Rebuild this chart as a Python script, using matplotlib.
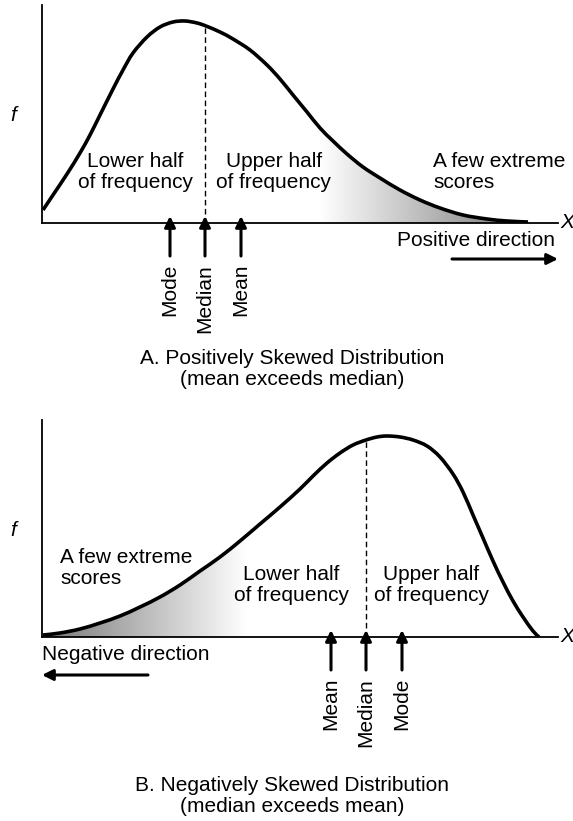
import matplotlib.pyplot as plt
import numpy as np
from matplotlib.colors import LinearSegmentedColormap
from matplotlib.path import Path
from matplotlib.patches import PathPatch

plt.rcParams['font.family'] = ['Liberation Sans', 'DejaVu Sans']

# A. positively skewed curve (score units along X, frequency f)
pos_x = [1, 11, 25, 38, 48, 58, 71, 81, 91, 105, 118, 131, 143, 155, 164, 178, 191,
         208, 225, 238, 251, 265, 278, 291, 305, 321, 338, 358, 378, 398, 421, 445, 465, 486]
pos_f = [13, 28, 49, 70, 88, 108, 134, 153, 170, 186, 196, 201, 202, 200, 197, 191, 184,
         173, 158, 144, 128, 111, 95, 82, 69, 56, 45, 33, 23, 15, 8, 4, 2, 1]
pos_marks = {'Mode': 128, 'Median': 163, 'Mean': 199}
pos_tail_start = 278

# B. negatively skewed curve
neg_x = [1, 18, 38, 58, 78, 98, 118, 138, 158, 178, 198, 218, 238, 258, 271, 285, 298,
         311, 324, 335, 345, 358, 371, 385, 398, 411, 421, 431, 441, 451, 461, 471, 481, 491, 497]
neg_f = [2, 4, 8, 14, 21, 30, 40, 52, 66, 80, 96, 113, 130, 148, 161, 174, 184,
         192, 197, 200, 201, 200, 197, 191, 180, 163, 145, 122, 99, 76, 55, 36, 20, 6, 0]
neg_marks = {'Mean': 289, 'Median': 324, 'Mode': 360}
neg_tail_end = 205

FS = 15
tail_cmap = LinearSegmentedColormap.from_list('tail', ['#ffffff', '#777777'])

fig = plt.figure(figsize=(5.73, 8.21), dpi=100)


def make_axes(top_px, bottom_px):
    ax = fig.add_axes([42 / 573, 1 - bottom_px / 821, 516 / 573, (bottom_px - top_px) / 821])
    ax.set_xlim(0, 516)
    ax.set_ylim(0, bottom_px - top_px)
    for s in ['top', 'right']:
        ax.spines[s].set_visible(False)
    for s in ['left', 'bottom']:
        ax.spines[s].set_linewidth(1.3)
    ax.set_xticks([])
    ax.set_yticks([])
    ax.patch.set_alpha(0)
    return ax


def smooth_path(x, f):
    # Catmull-Rom through the read points, drawn as cubic Bezier segments
    p = np.column_stack([x, f]).astype(float)
    verts = [p[0]]
    codes = [Path.MOVETO]
    n = len(p)
    for i in range(n - 1):
        p0 = p[i - 1] if i > 0 else p[i]
        p1, p2 = p[i], p[i + 1]
        p3 = p[i + 2] if i + 2 < n else p[i + 1]
        verts += [p1 + (p2 - p0) / 6, p2 - (p3 - p1) / 6, p2]
        codes += [Path.CURVE4] * 3
    return Path(verts, codes)


def shade(ax, x, f, x0, x1, reverse):
    grad = np.linspace(0, 1, 256).reshape(1, -1)
    if reverse:
        grad = grad[:, ::-1]
    im = ax.imshow(grad, cmap=tail_cmap, aspect='auto', extent=[x0, x1, 0, max(f)],
                   origin='lower', zorder=1)
    curve = smooth_path(x, f)
    verts = np.vstack([curve.vertices, [[x[-1], 0], [x[0], 0], [x[0], f[0]]]])
    codes = list(curve.codes) + [Path.LINETO, Path.LINETO, Path.CLOSEPOLY]
    im.set_clip_path(Path(verts, codes), transform=ax.transData)
    ax.set_xlim(0, 516)


def draw_curve(ax, x, f):
    ax.add_patch(PathPatch(smooth_path(x, f), fill=False, edgecolor='black', lw=2.6,
                           capstyle='butt', zorder=4))


def markers(ax, marks, x, f):
    for name, mx in marks.items():
        ax.annotate('', xy=(mx, 7), xytext=(mx, -33), annotation_clip=False,
                    arrowprops=dict(arrowstyle='-|>', lw=2.2, color='black',
                                    mutation_scale=16, shrinkA=0, shrinkB=0))
        ax.text(mx, -41, name, rotation=90, ha='center', va='top', fontsize=FS, clip_on=False)
    med = marks['Median']
    ax.plot([med, med], [0, np.interp(med, x, f)], color='black', lw=1, ls=(0, (4, 2.5)), zorder=3)


def axis_labels(ax):
    ax.text(-29, 107, 'f', fontsize=FS, style='italic', ha='center', va='center', clip_on=False)
    ax.text(525, 0, 'X', fontsize=FS, style='italic', ha='center', va='center', clip_on=False)


# ---- A. positively skewed ----
ax1 = make_axes(5, 223)
shade(ax1, pos_x, pos_f, pos_tail_start, pos_x[-1], reverse=False)
draw_curve(ax1, pos_x, pos_f)
markers(ax1, pos_marks, pos_x, pos_f)
axis_labels(ax1)
ax1.text(93, 51, 'Lower half\nof frequency', fontsize=FS, ha='center', va='center', linespacing=1.1)
ax1.text(232, 51, 'Upper half\nof frequency', fontsize=FS, ha='center', va='center', linespacing=1.1)
ax1.text(391, 51, 'A few extreme\nscores', fontsize=FS, ha='left', va='center', linespacing=1.1)
ax1.text(513, -17, 'Positive direction', fontsize=FS, ha='right', va='center', clip_on=False)
ax1.annotate('', xy=(516, -36), xytext=(410, -36), annotation_clip=False,
             arrowprops=dict(arrowstyle='-|>', lw=2.2, color='black', mutation_scale=16,
                             shrinkA=0, shrinkB=0))
ax1.text(250, -146, 'A. Positively Skewed Distribution\n(mean exceeds median)', fontsize=FS,
         ha='center', va='center', linespacing=1.1, clip_on=False)

# ---- B. negatively skewed ----
ax2 = make_axes(420, 637)
shade(ax2, neg_x, neg_f, 0, neg_tail_end, reverse=True)
draw_curve(ax2, neg_x, neg_f)
markers(ax2, neg_marks, neg_x, neg_f)
axis_labels(ax2)
ax2.text(18, 69, 'A few extreme\nscores', fontsize=FS, ha='left', va='center', linespacing=1.1)
ax2.text(249, 52, 'Lower half\nof frequency', fontsize=FS, ha='center', va='center', linespacing=1.1)
ax2.text(389, 52, 'Upper half\nof frequency', fontsize=FS, ha='center', va='center', linespacing=1.1)
ax2.text(0, -18, 'Negative direction', fontsize=FS, ha='left', va='center', clip_on=False)
ax2.annotate('', xy=(0, -38), xytext=(106, -38), annotation_clip=False,
             arrowprops=dict(arrowstyle='-|>', lw=2.2, color='black', mutation_scale=16,
                             shrinkA=0, shrinkB=0))
ax2.text(250, -159, 'B. Negatively Skewed Distribution\n(median exceeds mean)', fontsize=FS,
         ha='center', va='center', linespacing=1.1, clip_on=False)

fig.savefig('out.png', dpi=100)
